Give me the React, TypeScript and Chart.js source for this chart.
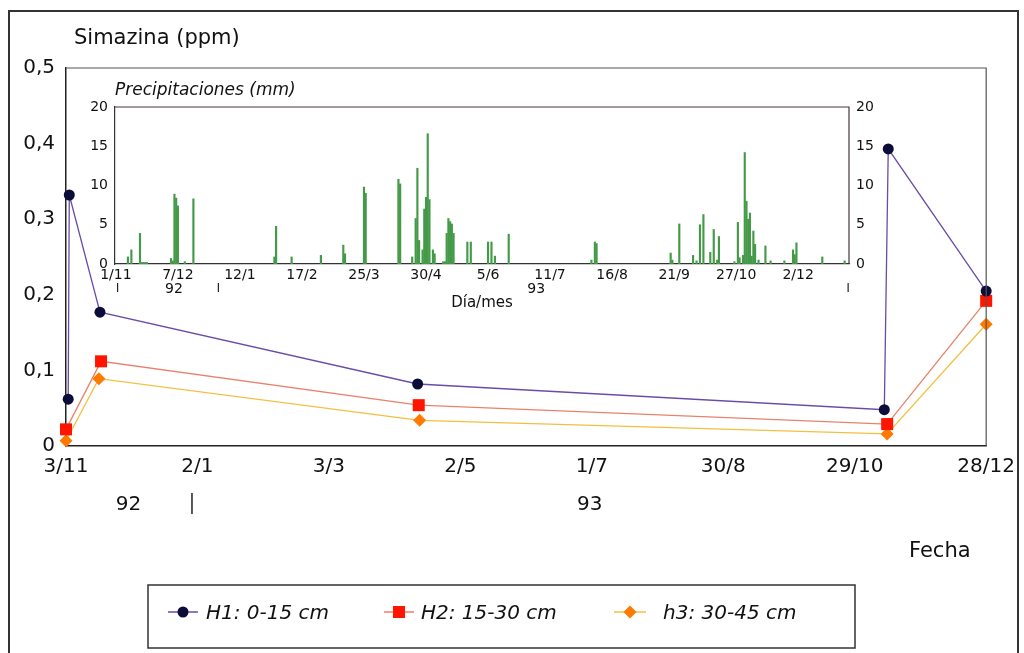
import React, { useEffect, useRef } from "react";
import { Chart, registerables } from "chart.js";
Chart.register(...registerables);

const FONT = "'DejaVu Sans', 'Liberation Sans', sans-serif";

// ---------- Main chart: days counted from 3/11/1992 ----------
const mainTickDays = [0, 60, 120, 180, 240, 300, 360, 420];
const mainTickLabels = ["3/11", "2/1", "3/3", "2/5", "1/7", "30/8", "29/10", "28/12"];
const yTicks = [0, 0.1, 0.2, 0.3, 0.4, 0.5];
const seriesNames = ["H1: 0-15 cm", "H2: 15-30 cm", "h3: 30-45 cm"];

const h1Days = [1, 1.5, 15.5, 160.5, 373.5, 375.3, 420];
const h1Values = [0.062, 0.332, 0.177, 0.082, 0.048, 0.393, 0.205];
const h2Days = [0, 16, 161, 374.8, 420];
const h2Values = [0.022, 0.112, 0.054, 0.029, 0.192];
const h3Days = [0, 15, 161.4, 374.8, 420];
const h3Values = [0.007, 0.089, 0.034, 0.016, 0.161];

// ---------- Inset: days counted from 1/11/1992 ----------
const insetTickDays = [0, 36, 72, 108, 144, 180, 216, 252, 288, 324, 360, 396];
const insetTickLabels = ["1/11", "7/12", "12/1", "17/2", "25/3", "30/4", "5/6", "11/7", "16/8", "21/9", "27/10", "2/12"];
const insetYTicks = [0, 5, 10, 15, 20];

const precipDays = [7, 9, 14, 15, 16, 17, 18, 32, 33, 34, 35, 36, 40, 45, 92, 93, 102, 119, 132, 133, 144, 145, 164, 165, 172, 174, 175, 176, 178, 179, 180, 181, 182, 184, 185, 190, 191, 192, 193, 194, 195, 196, 204, 206, 216, 218, 220, 228, 276, 278, 279, 322, 323, 327, 335, 337, 339, 341, 345, 347, 349, 350, 359, 361, 362, 364, 365, 366, 367, 368, 369, 370, 371, 373, 377, 380, 388, 393, 394, 395, 410, 423];
const precipMm = [0.9, 1.8, 3.9, 0.2, 0.2, 0.2, 0.2, 0.7, 0.4, 8.9, 8.4, 7.4, 0.3, 8.3, 0.9, 4.8, 0.9, 1.1, 2.4, 1.3, 9.8, 9.0, 10.8, 10.2, 0.9, 5.8, 12.2, 3.0, 1.8, 7.0, 8.5, 16.6, 8.2, 1.8, 1.3, 0.3, 0.3, 3.9, 5.8, 5.4, 5.1, 3.9, 2.8, 2.8, 2.8, 2.8, 1.0, 3.8, 0.5, 2.8, 2.6, 1.4, 0.5, 5.1, 1.1, 0.4, 5.0, 6.3, 1.5, 4.4, 0.5, 3.5, 0.3, 5.3, 0.8, 1.1, 14.2, 8.0, 5.7, 6.5, 1.0, 4.2, 2.5, 0.5, 2.3, 0.4, 0.4, 1.8, 1.2, 2.7, 0.9, 0.4];

const H1_LINE = "#6a4ca8";
const H1_MARK = "#0c0c38";
const H2_LINE = "#e8826c";
const H2_MARK = "#ff1500";
const H3_LINE = "#f2c040";
const H3_MARK = "#ff7800";
const BAR = "#449a48";
const TEXT = "#111111";

const toXY = (xs: number[], ys: number[]) => xs.map((x, i) => ({ x, y: ys[i] }));

function drawMarker(ctx: CanvasRenderingContext2D, shape: string, x: number, y: number, color: string) {
  ctx.fillStyle = color;
  ctx.beginPath();
  if (shape === "circle") {
    ctx.arc(x, y, 5.5, 0, Math.PI * 2);
  } else if (shape === "rect") {
    ctx.rect(x - 6, y - 6, 12, 12);
  } else {
    ctx.moveTo(x - 6.5, y);
    ctx.lineTo(x, y - 6.5);
    ctx.lineTo(x + 6.5, y);
    ctx.lineTo(x, y + 6.5);
    ctx.closePath();
  }
  ctx.fill();
}

const mainOverlay = {
  id: "mainOverlay",
  beforeDraw(chart: any) {
    const ctx = chart.ctx;
    ctx.save();
    ctx.fillStyle = "#ffffff";
    ctx.fillRect(0, 0, chart.width, chart.height);
    ctx.restore();
  },
  afterDraw(chart: any) {
    const { ctx, chartArea: ca, scales } = chart;
    const xs = scales.x;
    ctx.save();
    // outer frame
    ctx.strokeStyle = "#333";
    ctx.lineWidth = 2;
    ctx.strokeRect(9, 11, 1009, 660);
    // plot box top/right
    ctx.strokeStyle = "#555";
    ctx.lineWidth = 1.2;
    ctx.beginPath();
    ctx.moveTo(ca.left, ca.top);
    ctx.lineTo(ca.right, ca.top);
    ctx.lineTo(ca.right, ca.bottom);
    ctx.stroke();
    // title
    ctx.fillStyle = TEXT;
    ctx.textBaseline = "alphabetic";
    ctx.textAlign = "left";
    ctx.font = `21px ${FONT}`;
    ctx.fillText("Simazina (ppm)", 74, 44);
    // year labels
    ctx.font = `20px ${FONT}`;
    ctx.textAlign = "center";
    ctx.fillText("92", xs.getPixelForValue(28.5), 510);
    ctx.fillText("93", xs.getPixelForValue(239), 510);
    ctx.strokeStyle = "#222";
    ctx.lineWidth = 1.5;
    const sx = xs.getPixelForValue(57.5);
    ctx.beginPath();
    ctx.moveTo(sx, 493);
    ctx.lineTo(sx, 514);
    ctx.stroke();
    ctx.textAlign = "left";
    ctx.font = `21px ${FONT}`;
    ctx.fillText("Fecha", 909, 557);
    // legend box
    ctx.strokeStyle = "#333";
    ctx.lineWidth = 1.5;
    ctx.strokeRect(148, 585, 707, 63);
    const items = [
      { label: seriesNames[0], line: H1_LINE, mark: H1_MARK, shape: "circle", l0: 168, l1: 198, cx: 183, tx: 206 },
      { label: seriesNames[1], line: H2_LINE, mark: H2_MARK, shape: "rect", l0: 384, l1: 414, cx: 399, tx: 421 },
      { label: seriesNames[2], line: H3_LINE, mark: H3_MARK, shape: "diamond", l0: 614, l1: 646, cx: 630, tx: 663 },
    ];
    const ly = 612;
    ctx.font = `italic 20px ${FONT}`;
    for (const it of items) {
      ctx.strokeStyle = it.line;
      ctx.lineWidth = 1.5;
      ctx.beginPath();
      ctx.moveTo(it.l0, ly);
      ctx.lineTo(it.l1, ly);
      ctx.stroke();
      drawMarker(ctx, it.shape, it.cx, ly, it.mark);
      ctx.fillStyle = TEXT;
      ctx.fillText(it.label, it.tx, 619);
    }
    ctx.restore();
  },
};

const insetOverlay = {
  id: "insetOverlay",
  afterDraw(chart: any) {
    const { ctx, chartArea: ca, scales } = chart;
    const xs = scales.x;
    ctx.save();
    ctx.strokeStyle = "#4a3434";
    ctx.lineWidth = 1.2;
    ctx.beginPath();
    ctx.moveTo(ca.left, ca.top);
    ctx.lineTo(ca.right, ca.top);
    ctx.lineTo(ca.right, ca.bottom);
    ctx.stroke();
    ctx.fillStyle = TEXT;
    ctx.textBaseline = "alphabetic";
    ctx.textAlign = "left";
    ctx.font = `italic 17px ${FONT}`;
    ctx.fillText("Precipitaciones (mm)", ca.left, 25);
    ctx.font = `14px ${FONT}`;
    ctx.textAlign = "center";
    ctx.fillText("92", xs.getPixelForValue(33.7), 223);
    ctx.fillText("93", xs.getPixelForValue(244), 223);
    ctx.font = `15px ${FONT}`;
    ctx.fillText("Día/mes", (ca.left + ca.right) / 2, 237);
    ctx.strokeStyle = "#222";
    ctx.lineWidth = 1.2;
    for (const v of [1, 59.5, 425]) {
      const px = xs.getPixelForValue(v);
      ctx.beginPath();
      ctx.moveTo(px, 213);
      ctx.lineTo(px, 222);
      ctx.stroke();
    }
    ctx.restore();
  },
};

export default function App() {
  const mainRef = useRef<HTMLCanvasElement | null>(null);
  const insetRef = useRef<HTMLCanvasElement | null>(null);

  useEffect(() => {
    if (!mainRef.current || !insetRef.current) return;

    const tickFont = { family: FONT, size: 20 };
    const main = new Chart(mainRef.current, {
      type: "line",
      data: {
        datasets: [
          {
            label: seriesNames[0],
            data: toXY(h1Days, h1Values),
            borderColor: H1_LINE,
            borderWidth: 1.3,
            pointStyle: "circle",
            pointRadius: 5.5,
            pointBackgroundColor: H1_MARK,
            pointBorderColor: H1_MARK,
            pointBorderWidth: 0,
            tension: 0,
            clip: false,
          },
          {
            label: seriesNames[1],
            data: toXY(h2Days, h2Values),
            borderColor: H2_LINE,
            borderWidth: 1.3,
            pointStyle: "rect",
            pointRadius: 8.5,
            pointBackgroundColor: H2_MARK,
            pointBorderColor: H2_MARK,
            pointBorderWidth: 0,
            tension: 0,
            clip: false,
          },
          {
            label: seriesNames[2],
            data: toXY(h3Days, h3Values),
            borderColor: H3_LINE,
            borderWidth: 1.3,
            pointStyle: "rectRot",
            pointRadius: 6.5,
            pointBackgroundColor: H3_MARK,
            pointBorderColor: H3_MARK,
            pointBorderWidth: 0,
            tension: 0,
            clip: false,
          },
        ],
      },
      options: {
        animation: false,
        responsive: false,
        devicePixelRatio: 1,
        layout: { padding: { top: 68, right: 37, left: 0, bottom: 0 } },
        plugins: { legend: { display: false }, tooltip: { enabled: false } },
        scales: {
          x: {
            type: "linear",
            min: 0,
            max: 420,
            grid: { display: false, drawTicks: false },
            border: { display: true, color: "#222", width: 1.5 },
            afterBuildTicks: (s: any) => {
              s.ticks = mainTickDays.map((v) => ({ value: v }));
            },
            afterFit: (s: any) => {
              s.height = 207;
            },
            ticks: {
              autoSkip: false,
              maxRotation: 0,
              padding: 9,
              color: TEXT,
              font: tickFont,
              callback: (v: any) => {
                const i = mainTickDays.indexOf(Number(v));
                return i >= 0 ? mainTickLabels[i] : "";
              },
            },
          },
          y: {
            type: "linear",
            min: 0,
            max: 0.5,
            grid: { display: false, drawTicks: false },
            border: { display: true, color: "#222", width: 1.5 },
            afterBuildTicks: (s: any) => {
              s.ticks = yTicks.map((v) => ({ value: v }));
            },
            afterFit: (s: any) => {
              s.width = 66;
            },
            ticks: {
              padding: 11,
              color: TEXT,
              font: tickFont,
              callback: (v: any) => (Number(v) === 0 ? "0" : Number(v).toFixed(1).replace(".", ",")),
            },
          },
        },
      },
      plugins: [mainOverlay],
    } as any);

    const insetFont = { family: FONT, size: 14 };
    const inset = new Chart(insetRef.current, {
      type: "bar",
      data: {
        datasets: [
          {
            label: "Precipitaciones (mm)",
            data: toXY(precipDays, precipMm),
            backgroundColor: BAR,
            borderWidth: 0,
            barThickness: 1.5,
            grouped: false,
          },
        ],
      },
      options: {
        animation: false,
        responsive: false,
        devicePixelRatio: 1,
        layout: { padding: { top: 37, right: 0, left: 0, bottom: 0 } },
        plugins: { legend: { display: false }, tooltip: { enabled: false } },
        scales: {
          x: {
            type: "linear",
            min: -0.5,
            max: 425.5,
            offset: false,
            grid: { display: false, drawTicks: false, offset: false },
            border: { display: true, color: "#333", width: 1.2 },
            afterBuildTicks: (s: any) => {
              s.ticks = insetTickDays.map((v) => ({ value: v }));
            },
            afterFit: (s: any) => {
              s.height = 56;
            },
            ticks: {
              autoSkip: false,
              maxRotation: 0,
              padding: 3,
              color: TEXT,
              font: insetFont,
              callback: (v: any) => {
                const i = insetTickDays.indexOf(Number(v));
                return i >= 0 ? insetTickLabels[i] : "";
              },
            },
          },
          y: {
            type: "linear",
            position: "left",
            min: 0,
            max: 20,
            grid: { display: false, drawTicks: false },
            border: { display: true, color: "#333", width: 1.2 },
            afterBuildTicks: (s: any) => {
              s.ticks = insetYTicks.map((v) => ({ value: v }));
            },
            afterFit: (s: any) => {
              s.width = 75;
            },
            ticks: { padding: 7, color: TEXT, font: insetFont },
          },
          y2: {
            type: "linear",
            position: "right",
            min: 0,
            max: 20,
            grid: { display: false, drawTicks: false },
            border: { display: false },
            afterBuildTicks: (s: any) => {
              s.ticks = insetYTicks.map((v) => ({ value: v }));
            },
            afterFit: (s: any) => {
              s.width = 51;
            },
            ticks: { padding: 7, color: TEXT, font: insetFont },
          },
        },
      },
      plugins: [insetOverlay],
    } as any);

    return () => {
      main.destroy();
      inset.destroy();
    };
  }, []);

  return (
    <div style={{ position: "fixed", left: 0, top: 0, width: 1024, height: 653, overflow: "hidden", background: "#fff" }}>
      <canvas ref={mainRef} width={1024} height={653} style={{ position: "absolute", left: 0, top: 0, width: 1024, height: 653 }} />
      <canvas ref={insetRef} width={860} height={250} style={{ position: "absolute", left: 40, top: 70, width: 860, height: 250 }} />
    </div>
  );
}
